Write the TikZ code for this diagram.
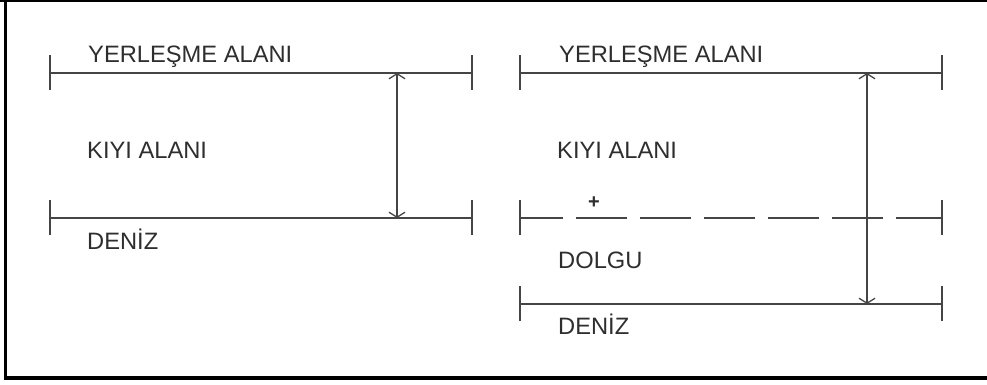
\documentclass[tikz,border=0pt]{standalone}
\usepackage{fontspec}
\setmainfont{Liberation Sans}
\usetikzlibrary{arrows.meta}
\definecolor{ln}{HTML}{454545}
\definecolor{tx}{HTML}{2E2E2E}
\tikzset{
  lvl/.style={draw=ln, line width=1.7pt},
  tick/.style={draw=ln, line width=1.7pt},
  dim/.style={draw=ln, line width=1.3pt, {Straight Barb[length=5pt,width=16pt]}-{Straight Barb[length=5pt,width=16pt]}},
  lbl/.style={anchor=base west, inner sep=0pt, text=tx, font=\fontsize{23.7}{24}\selectfont},
  dsh/.style={draw=ln, line width=1.7pt, dash pattern=on 51pt off 13pt, dash phase=8pt},
}
\begin{document}
\begin{tikzpicture}[x=1pt,y=-1pt]
\useasboundingbox (0,0) rectangle (987,385);
% frame
\fill[black] (0,0) rectangle (987,2.5);
\fill[black] (3.5,0) rectangle (7,380);
\fill[black] (3.5,375.5) rectangle (987,380);

% ---- left diagram ----
\coordinate (L1a) at (50,73); \coordinate (L1b) at (472,73);
\coordinate (L2a) at (50,218); \coordinate (L2b) at (472,218);
\draw[lvl] (L1a) -- (L1b);
\draw[lvl] (L2a) -- (L2b);
\foreach \p in {L1a,L1b,L2a,L2b} \draw[tick] ([yshift=-17pt]\p) -- ([yshift=18pt]\p);
\coordinate (LAt) at (397,73); \coordinate (LAb) at (397,218);
\draw[dim] (LAt) -- (LAb);
\node[lbl] (ly) at (88,63) {YERLEŞME ALANI};
\node[lbl] (lk) at (87,158) {KIYI ALANI};
\node[lbl] (ld) at (87,249) {DENİZ};

% ---- right diagram ----
\coordinate (R1a) at (520,73); \coordinate (R1b) at (942,73);
\coordinate (R2a) at (520,218); \coordinate (R2b) at (942,218);
\coordinate (R3a) at (520,304); \coordinate (R3b) at (942,304);
\draw[lvl] (R1a) -- (R1b);
\draw[dsh] (R2a) -- (R2b);
\draw[lvl] (R3a) -- (R3b);
\foreach \p in {R1a,R1b,R2a,R2b,R3a,R3b} \draw[tick] ([yshift=-17pt]\p) -- ([yshift=18pt]\p);
\coordinate (RAt) at (867,73); \coordinate (RAb) at (867,304);
\draw[dim] (RAt) -- (RAb);
\node[lbl] (ry) at (559,63) {YERLEŞME ALANI};
\node[lbl] (rk) at (557,158) {KIYI ALANI};
\node[inner sep=0pt, text=tx, font=\fontsize{20}{20}\bfseries] (rp) at (594,203) {+};
\node[lbl] (rdo) at (558,268) {DOLGU};
\node[lbl] (rde) at (558,334) {DENİZ};
\end{tikzpicture}
\end{document}
